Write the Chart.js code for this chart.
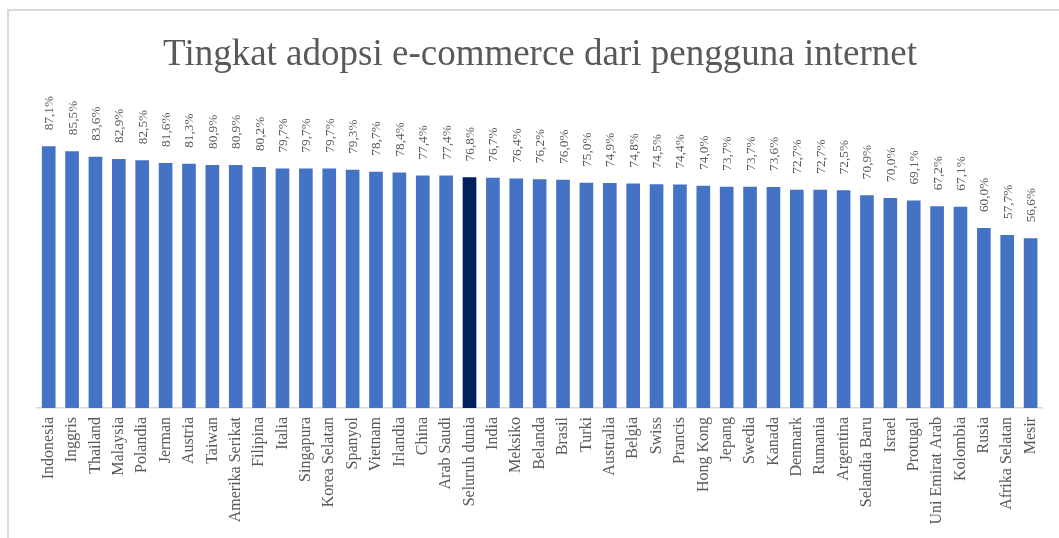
<!DOCTYPE html>
<html>
<head>
<meta charset="utf-8">
<script src="https://cdn.jsdelivr.net/npm/chart.js@4/dist/chart.umd.min.js"></script>
<style>
  html, body { margin: 0; padding: 0; background: #fff; }
  #wrap { position: relative; width: 1059px; height: 538px; overflow: hidden; }
  #frame { position: absolute; left: 7px; top: 9px; width: 1100px; height: 600px;
           border-left: 2px solid #d9d9d9; border-top: 2px solid #d9d9d9; box-sizing: border-box; }
  #c { position: absolute; left: 0; top: 0; }
</style>
</head>
<body>
<div id="wrap">
  <div id="frame"></div>
  <canvas id="c" width="1059" height="538"></canvas>
</div>
<script>
const titleText = 'Tingkat adopsi e-commerce dari pengguna internet';
const categories = ['Indonesia','Inggris','Thailand','Malaysia','Polandia','Jerman','Austria','Taiwan','Amerika Serikat','Filipina','Italia','Singapura','Korea Selatan','Spanyol','Vietnam','Irlandia','China','Arab Saudi','Seluruh dunia','India','Meksiko','Belanda','Brasil','Turki','Australia','Belgia','Swiss','Prancis','Hong Kong','Jepang','Swedia','Kanada','Denmark','Rumania','Argentina','Selandia Baru','Israel','Protugal','Uni Emirat Arab','Kolombia','Rusia','Afrika Selatan','Mesir'];
const values = [87.1,85.5,83.6,82.9,82.5,81.6,81.3,80.9,80.9,80.2,79.7,79.7,79.7,79.3,78.7,78.4,77.4,77.4,76.8,76.7,76.4,76.2,76.0,75.0,74.9,74.8,74.5,74.4,74.0,73.7,73.7,73.6,72.7,72.7,72.5,70.9,70.0,69.1,67.2,67.1,60.0,57.7,56.6];
const highlightCategory = 'Seluruh dunia';

const barColors = categories.map(c => c === highlightCategory ? '#002060' : '#4472C4');
const fontFamily = "'Liberation Serif', 'Times New Roman', serif";

const valueLabels = {
  id: 'valueLabels',
  afterDatasetsDraw(chart) {
    const ctx = chart.ctx;
    const meta = chart.getDatasetMeta(0);
    ctx.save();
    ctx.font = '13.3px ' + fontFamily;
    ctx.fillStyle = '#595959';
    ctx.textAlign = 'left';
    ctx.textBaseline = 'middle';
    meta.data.forEach((el, i) => {
      const v = chart.data.datasets[0].data[i];
      const txt = v.toFixed(1).replace('.', ',') + '%';
      ctx.save();
      ctx.translate(el.x + 1, el.y - 15);
      ctx.rotate(-Math.PI / 2);
      ctx.fillText(txt, 0, 0);
      ctx.restore();
    });
    ctx.restore();
  }
};

new Chart(document.getElementById('c'), {
  type: 'bar',
  data: {
    labels: categories,
    datasets: [{
      data: values,
      backgroundColor: barColors,
      borderColor: 'rgba(255,255,255,0.35)',
      borderWidth: 1,
      barPercentage: 0.67,
      categoryPercentage: 1.0
    }]
  },
  options: {
    responsive: false,
    animation: false,
    layout: { padding: { left: 37, right: 16, top: 0, bottom: 0 } },
    plugins: {
      legend: { display: false },
      tooltip: { enabled: false },
      title: {
        display: true,
        text: titleText,
        color: '#595959',
        font: { family: fontFamily, size: 37, weight: 'normal', lineHeight: 1.2 },
        padding: { top: 33, bottom: 29 }
      }
    },
    scales: {
      x: {
        grid: { display: false, drawTicks: false },
        border: { display: true, color: '#d9d9d9', width: 1.5 },
        ticks: {
          color: '#595959',
          font: { family: fontFamily, size: 16 },
          minRotation: 90, maxRotation: 90,
          autoSkip: false,
          padding: 9
        },
        afterFit(s) { s.height = 130; }
      },
      y: {
        display: false,
        min: 0, max: 100
      }
    }
  },
  plugins: [valueLabels]
});
</script>
</body>
</html>
